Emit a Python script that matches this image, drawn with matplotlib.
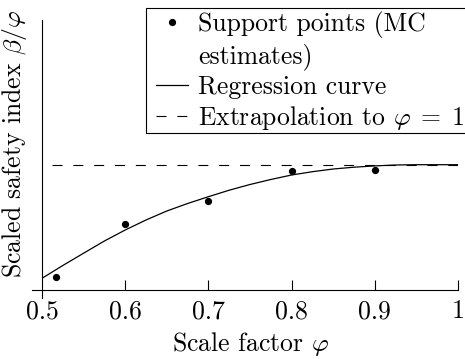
import numpy as np
import matplotlib
matplotlib.use("Agg")
import matplotlib.pyplot as plt
from matplotlib.lines import Line2D
from matplotlib.patches import Rectangle

plt.rcParams['font.family'] = 'serif'
plt.rcParams['font.serif'] = ['cmr10', 'DejaVu Serif']
plt.rcParams['mathtext.fontset'] = 'cm'
plt.rcParams['axes.formatter.use_mathtext'] = True
plt.rcParams['lines.scale_dashes'] = False

# support points (MC estimates)
phi_pts = [0.517, 0.6, 0.7, 0.8, 0.9]
beta_pts = [0.13, 0.663, 0.887, 1.187, 1.20]

# regression curve
phi_reg = [0.5, 0.525, 0.55, 0.575, 0.6, 0.625, 0.65, 0.675, 0.7, 0.725, 0.75,
           0.775, 0.8, 0.825, 0.85, 0.875, 0.9, 0.925, 0.95, 1.0]
beta_reg = [0.117, 0.245, 0.368, 0.49, 0.6, 0.70, 0.79, 0.865, 0.933, 0.998, 1.055,
            1.105, 1.15, 1.183, 1.21, 1.228, 1.241, 1.25, 1.253, 1.253]

# extrapolation to phi = 1
phi_ext = [0.5125, 1.0]
beta_ext = [1.253, 1.253]

xticks = [0.5, 0.6, 0.7, 0.8, 0.9, 1.0]
xticklabels = ['0.5', '0.6', '0.7', '0.8', '0.9', '1']

fs = 18.5
dash = (7.2, 7.8)
W, H = 465, 359
fig = plt.figure(figsize=(W / 100, H / 100), dpi=100)
ax = fig.add_axes([42 / W, 1 - 290 / H, 416 / W, 270 / H])

ax.plot(phi_ext, beta_ext, color='black', lw=0.8, dashes=dash)
ax.plot(phi_reg, beta_reg, color='black', lw=0.9)
ax.plot(phi_pts, beta_pts, 'o', color='black', ms=4.2)

ax.set_xlim(0.5, 1.0)
ax.set_ylim(0, 2.7)

for s in ax.spines.values():
    s.set_visible(False)
# pgfplots-like axis lines
ax.plot([0, 0], [1, -8 / 270], color='black', lw=0.8, transform=ax.transAxes, clip_on=False)
ax.plot([-10 / 416, 1], [0, 0], color='black', lw=0.8, transform=ax.transAxes, clip_on=False)

ax.set_xticks(xticks)
ax.set_xticklabels(xticklabels, fontsize=fs)
ax.tick_params(axis='x', direction='in', length=7.2, width=0.8, pad=7)
ax.xaxis.get_major_ticks()[0].tick1line.set_visible(False)
ax.set_yticks([])

ax.set_xlabel(r'Scale factor $\varphi$', fontsize=fs)
ax.xaxis.set_label_coords(0.5, -0.15)
ax.set_ylabel(r'Scaled safety index $\beta/\varphi$', fontsize=fs)
ax.yaxis.set_label_coords(-13 / 416, 0.543)

handles = [
    Line2D([], [], ls='none', marker='o', color='black', ms=4.2),
    Line2D([], [], ls='none'),
    Line2D([], [], color='black', lw=0.9),
    Line2D([], [], color='black', lw=0.8, dashes=dash),
]
labels = ['Support points (MC', 'estimates)', 'Regression curve',
          r'Extrapolation to $\varphi\;=\;1$']
leg = fig.legend(handles, labels, loc='upper left', bbox_to_anchor=(147 / W, 1 - 2 / H),
                 fontsize=fs, frameon=False, borderaxespad=0, borderpad=0.35,
                 handlelength=1.25, handletextpad=0.39, labelspacing=0.2)
# legend frame drawn by hand so the padding can match
fig.patches.append(Rectangle((146 / W, 1 - 133 / H), 320 / W, 125 / H,
                             transform=fig.transFigure, fill=False,
                             edgecolor='black', lw=0.8))

fig.savefig('out.png', dpi=100)
